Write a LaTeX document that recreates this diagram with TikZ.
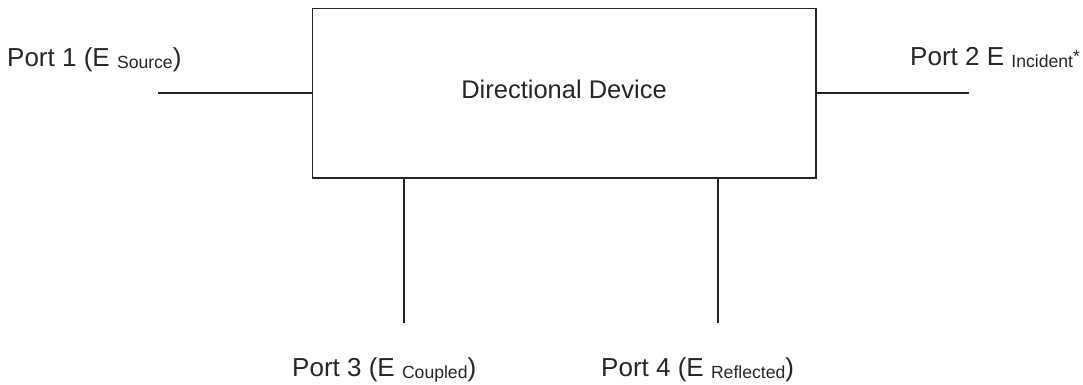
\documentclass[tikz,border=0pt]{standalone}
\usepackage{fontspec}
\setmainfont{Liberation Sans}
\newcommand{\lowsub}[1]{{\fontsize{17.6}{18}\selectfont\raisebox{-2pt}{#1}}}
\newcommand{\upstar}{{\fontsize{17.6}{18}\selectfont\raisebox{3pt}{*}}}
\begin{document}
\begin{tikzpicture}[x=1pt,y=-1pt,
  wire/.style={line width=1.1pt, draw=black!85},
  devbox/.style={draw=black!85, line width=1.1pt, minimum width=503.5pt, minimum height=169.5pt, inner sep=0pt},
  portlabel/.style={font=\fontsize{26}{31}\selectfont, text=black!85, inner sep=0pt, anchor=base west}]
\useasboundingbox (0,0) rectangle (1083,384);
\node[devbox] (dev) at (564.25,93.25) {};
\node[portlabel, anchor=base, font=\fontsize{25.5}{30}\selectfont] (devlabel) at (564,98) {Directional Device};
\coordinate (p1) at (158,93);
\coordinate (p2) at (969,93);
\coordinate (p3) at (404,323);
\coordinate (p4) at (718,323);
\draw[wire] (p1) -- (p1 -| dev.west);
\draw[wire] (p2 -| dev.east) -- (p2);
\draw[wire] (p3 |- dev.south) -- (p3);
\draw[wire] (p4 |- dev.south) -- (p4);
\node[portlabel] (l1) at (7,66) {Port 1 (E \lowsub{Source})};
\node[portlabel] (l2) at (910,65) {Port 2 E \lowsub{Incident}\upstar};
\node[portlabel] (l3) at (292,376) {Port 3 (E \lowsub{Coupled})};
\node[portlabel] (l4) at (601,376) {Port 4 (E \lowsub{Reflected})};
\end{tikzpicture}
\end{document}
